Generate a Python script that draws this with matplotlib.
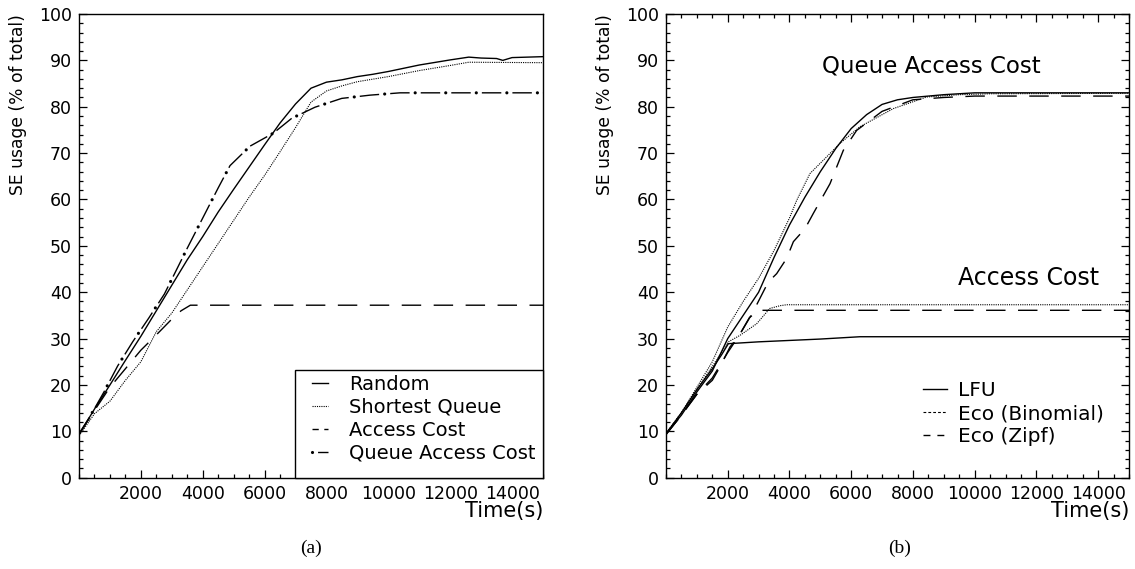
import matplotlib
matplotlib.use("Agg")
import matplotlib.pyplot as plt
from matplotlib.lines import Line2D
from matplotlib.patches import Rectangle
from matplotlib.legend_handler import HandlerTuple
from matplotlib.ticker import MultipleLocator, FixedLocator

plt.rcParams['font.family'] = ['DejaVu Sans']
plt.rcParams['lines.scale_dashes'] = False

# ---------------- Panel (a) data ----------------
t_random = [0, 500, 1000, 1500, 2000, 2500, 3000, 3500, 4000, 4500, 5000, 5500, 6000,
            6500, 7000, 7500, 8000, 8500, 9000, 9500, 10000, 11000, 12000, 12600, 13000,
            13500, 13700, 14000, 15000]
y_random = [9.3, 14.8, 20.0, 25.3, 30.5, 36.0, 41.5, 47.0, 52.0, 57.3, 62.2, 67.0, 71.8,
            76.5, 80.6, 84.0, 85.3, 85.8, 86.5, 87.0, 87.6, 89.0, 90.1, 90.7, 90.5,
            90.4, 90.0, 90.6, 90.8]

t_shortest = [0, 500, 1000, 1500, 2000, 2500, 3000, 3500, 4000, 4500, 5000, 5500, 6000,
              6500, 7000, 7500, 8000, 8500, 9000, 10000, 11000, 12000, 12600, 15000]
y_shortest = [9.0, 13.8, 16.5, 21.0, 25.0, 31.5, 35.5, 40.5, 45.5, 50.5, 55.5, 60.5, 65.2,
              70.3, 75.5, 81.0, 83.4, 84.5, 85.4, 86.5, 87.8, 88.9, 89.6, 89.5]

t_access = [0, 500, 1000, 1500, 2000, 2500, 3000, 3300, 3600, 15000]
y_access = [9.3, 14.5, 19.5, 23.5, 27.5, 30.8, 34.2, 36.0, 37.2, 37.2]

t_qac = [0, 356, 808, 1250, 1735, 2253, 2759, 3179, 3500, 4000, 4500, 4882, 5529, 6282,
         6876, 7630, 8493, 9408, 10378, 15000]
y_qac = [9.5, 13.2, 18.5, 24.1, 29.3, 34.4, 39.6, 45.2, 49.5, 56.0, 62.5, 67.3, 71.5, 74.3,
         77.5, 79.9, 81.8, 82.5, 83.0, 83.0]

labels_a = ["Random", "Shortest Queue", "Access Cost", "Queue Access Cost"]

# ---------------- Panel (b) data ----------------
# Queue Access Cost scenario
t_lfu_q = [0, 500, 1000, 1500, 2000, 2500, 3000, 3500, 4000, 4500, 5000, 5500, 6000,
           6500, 7000, 7500, 8000, 9000, 10000, 15000]
y_lfu_q = [9.5, 13.5, 18.5, 23.0, 30.0, 35.0, 40.0, 47.5, 54.5, 60.5, 66.0, 71.0, 75.3,
           78.3, 80.5, 81.5, 82.0, 82.6, 83.0, 83.0]

t_bin_q = [0, 500, 1000, 1500, 2000, 2500, 3000, 3500, 4000, 4233, 4665, 5205, 5637,
           6285, 7365, 8445, 9500, 10500, 15000]
y_bin_q = [9.5, 14.0, 19.5, 25.0, 32.5, 38.0, 43.0, 49.0, 56.0, 59.8, 65.6, 69.2, 72.1,
           75.7, 79.6, 82.1, 82.6, 82.8, 82.9]

t_zipf_q = [0, 500, 1000, 1500, 1750, 2073, 2343, 2800, 3313, 3585, 3910, 4127, 4503,
            4773, 5313, 5745, 6177, 7000, 8000, 9000, 10000, 15000]
y_zipf_q = [9.3, 13.5, 18.0, 21.0, 23.9, 28.2, 30.4, 35.5, 42.2, 44.0, 47.3, 50.9, 53.7,
            57.0, 63.4, 70.6, 74.9, 79.0, 81.5, 82.0, 82.3, 82.3]

# Access Cost scenario
t_lfu_a = [0, 500, 1000, 1500, 1800, 2020, 3000, 4000, 5000, 6285, 15000]
y_lfu_a = [9.5, 14.0, 19.0, 23.5, 26.5, 28.9, 29.3, 29.6, 29.9, 30.4, 30.4]

t_bin_a = [0, 500, 1000, 1500, 1800, 2020, 2397, 2937, 3363, 3700, 3910, 15000]
y_bin_a = [9.5, 14.0, 19.0, 24.0, 27.0, 29.3, 30.7, 33.2, 36.5, 37.1, 37.3, 37.3]

t_zipf_a = [0, 500, 1000, 1500, 2000, 2400, 2700, 3000, 15000]
y_zipf_a = [9.3, 13.5, 18.0, 21.5, 27.0, 31.0, 34.5, 36.1, 36.1]

labels_b = ["LFU", "Eco (Binomial)", "Eco (Zipf)"]
annot_b = ["Queue Access Cost", "Access Cost"]

x_ticks = [2000, 4000, 6000, 8000, 10000, 12000, 14000]
y_ticks = [0, 10, 20, 30, 40, 50, 60, 70, 80, 90, 100]

# ---------------- styles ----------------
SOLID = dict(color='black', lw=1.0, linestyle='-')
DOTTED = dict(color='black', lw=0.8, linestyle=(0, (0.8, 0.8)))
DASHED = dict(color='black', lw=1.0, linestyle=(0, (14, 9)))
# dash-dot drawn as a dash line plus a dot line along the same path
DD_DASH = dict(color='black', lw=1.0, linestyle=(0, (14, 8)))
DD_DOT = dict(color='black', lw=2.3, linestyle=(4, (0.01, 21.99)), dash_capstyle='round')

fig = plt.figure(figsize=(11.35, 5.69), dpi=100)
W, H = 1135, 569
ax_a = fig.add_axes([79 / W, (H - 477.7) / H, 464 / W, 463.7 / H])
ax_b = fig.add_axes([666 / W, (H - 477.7) / H, 463 / W, 463.7 / H])


def style_axes(ax, all_sides):
    ax.set_xlim(0, 15000)
    ax.set_ylim(0, 100)
    ax.xaxis.set_major_locator(FixedLocator(x_ticks))
    ax.xaxis.set_minor_locator(MultipleLocator(500))
    ax.yaxis.set_major_locator(FixedLocator(y_ticks))
    ax.yaxis.set_minor_locator(MultipleLocator(2))
    ax.tick_params(which='both', direction='in', top=all_sides, right=all_sides,
                   labelsize=12.5, width=0.9, colors='black')
    ax.tick_params(which='major', length=5.5, pad=5)
    ax.tick_params(which='minor', length=3)
    for s in ax.spines.values():
        s.set_linewidth(1.0)
    ax.set_ylabel("SE usage (% of total)", fontsize=12.3, loc='top')
    ax.yaxis.set_label_coords(-0.112, 1.0)
    ax.set_xlabel("Time(s)", fontsize=15, loc='right')
    ax.xaxis.set_label_coords(1.0, -0.05)


# Panel (a)
ax_a.plot(t_random, y_random, **SOLID)
ax_a.plot(t_shortest, y_shortest, **DOTTED)
ax_a.plot(t_access, y_access, **DASHED)
ax_a.plot(t_qac, y_qac, **DD_DASH)
ax_a.plot(t_qac, y_qac, **DD_DOT)
style_axes(ax_a, False)

# legend box (a)
ax_a.add_patch(Rectangle((0.4655, 0.0), 0.5345, 0.232, transform=ax_a.transAxes,
                         facecolor='white', edgecolor='black', lw=1.0, zorder=4.5,
                         clip_on=False))

h_qac = (Line2D([], [], color='black', lw=1.0, linestyle=(0, (0.01, 4, 9, 30))),
         Line2D([], [], color='black', lw=2.3, linestyle=(0, (0.01, 30)), dash_capstyle='round'))
handles_a = [
    Line2D([], [], color='black', lw=1.0, linestyle='-'),
    Line2D([], [], color='black', lw=0.8, linestyle=(0, (0.8, 0.8))),
    Line2D([], [], color='black', lw=1.0, linestyle=(0, (4.5, 4))),
    h_qac,
]
leg_a = ax_a.legend(handles_a, labels_a, loc='upper left',
                    bbox_to_anchor=(0.502, 0.2215),
                    borderaxespad=0, fontsize=14, handlelength=0.85, handletextpad=1.05,
                    labelspacing=0.2, borderpad=0, frameon=False,
                    handler_map={tuple: HandlerTuple(ndivide=1, pad=0)})
leg_a.set_zorder(6)

# Panel (b)
ax_b.plot(t_lfu_q, y_lfu_q, **SOLID)
ax_b.plot(t_bin_q, y_bin_q, **DOTTED)
ax_b.plot(t_zipf_q, y_zipf_q, **DASHED)
ax_b.plot(t_lfu_a, y_lfu_a, **SOLID)
ax_b.plot(t_bin_a, y_bin_a, **DOTTED)
ax_b.plot(t_zipf_a, y_zipf_a, **DASHED)
style_axes(ax_b, True)

ax_b.text(5050, 88.7, annot_b[0], fontsize=16.5, va='center', ha='left')
ax_b.text(9450, 43.0, annot_b[1], fontsize=17, va='center', ha='left')

handles_b = [
    Line2D([], [], color='black', lw=1.0, linestyle='-'),
    Line2D([], [], color='black', lw=0.8, linestyle=(0, (2.0, 1.5))),
    Line2D([], [], color='black', lw=1.0, linestyle=(0, (5, 5))),
]
leg_b = ax_b.legend(handles_b, labels_b, loc='upper left', bbox_to_anchor=(0.555, 0.2085),
                    borderaxespad=0, fontsize=14.5, handlelength=1.2, handletextpad=0.55,
                    labelspacing=0.2, borderpad=0, frameon=False)

fig.text(311 / W, 1 - 548 / H, "(a)", fontsize=14, family='Liberation Serif',
         ha='center', va='center')
fig.text(900 / W, 1 - 548 / H, "(b)", fontsize=14, family='Liberation Serif',
         ha='center', va='center')

fig.savefig("out.png", dpi=100)
